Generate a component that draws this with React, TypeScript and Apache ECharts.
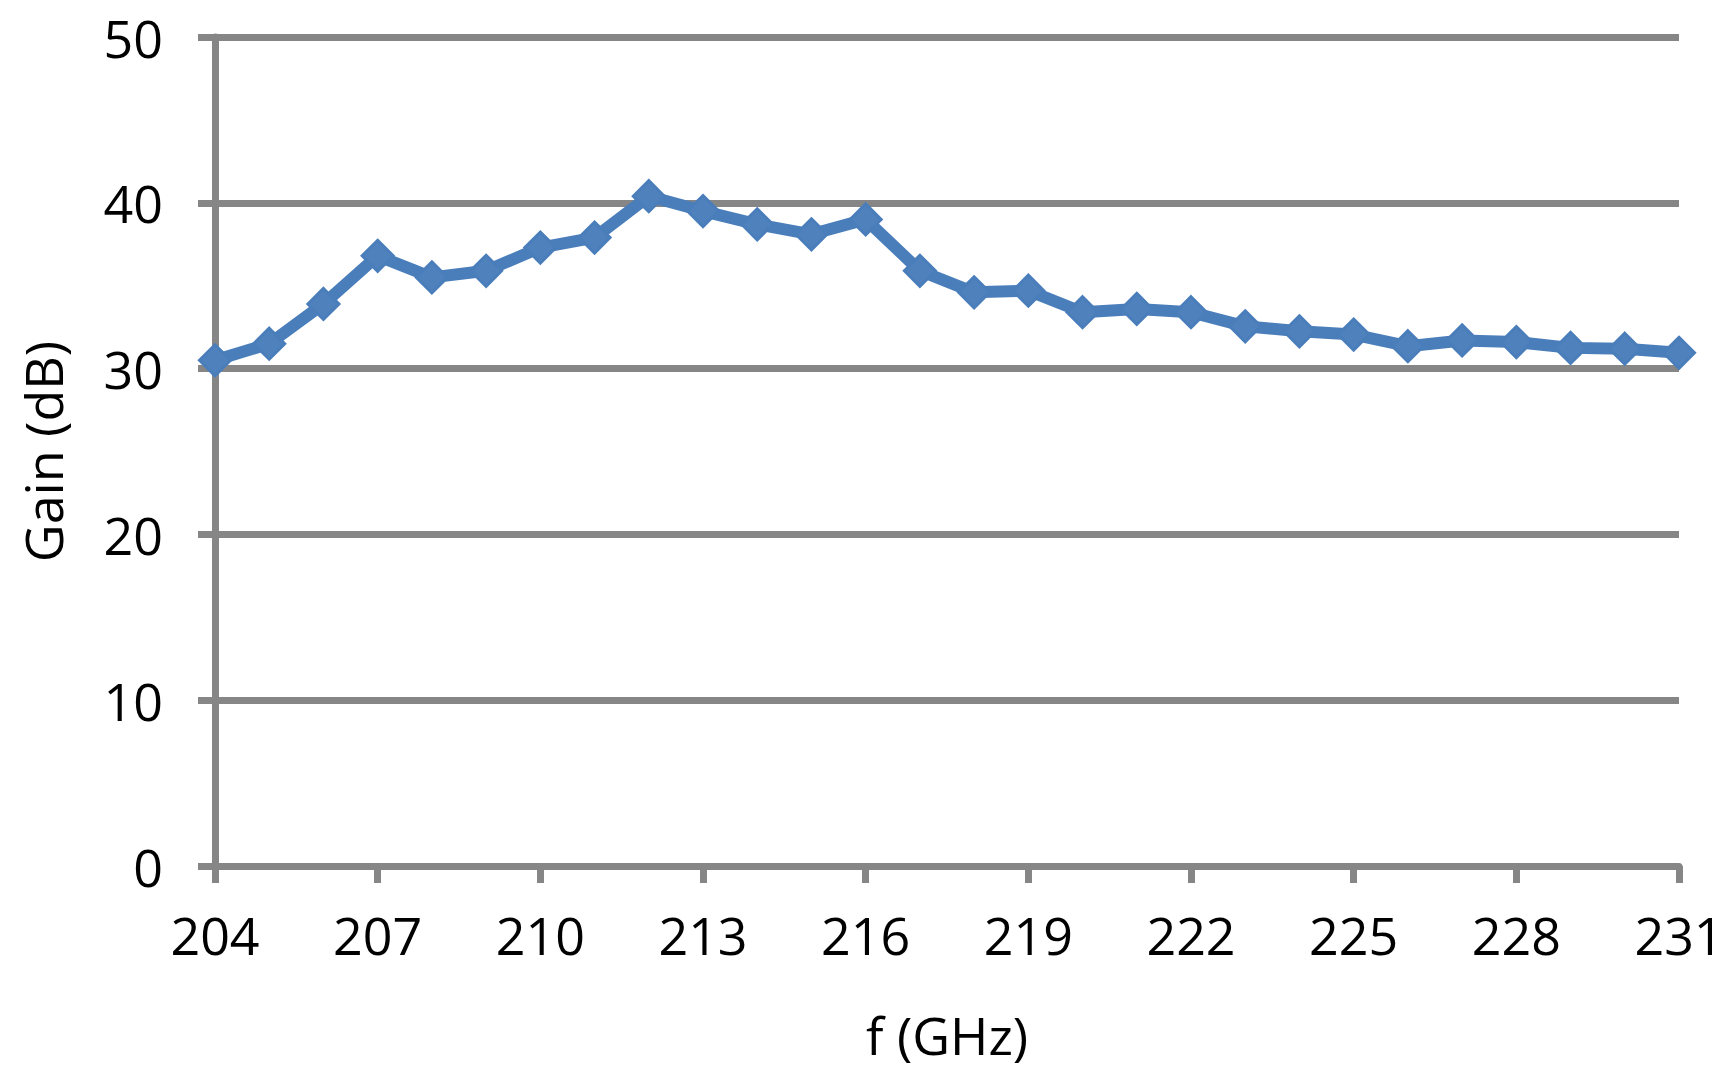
import React, { useEffect, useRef } from "react";
import * as echarts from "echarts";

const frequencies = [
  204, 205, 206, 207, 208, 209, 210, 211, 212, 213, 214, 215, 216, 217,
  218, 219, 220, 221, 222, 223, 224, 225, 226, 227, 228, 229, 230, 231,
];
const gainDb = [
  30.5, 31.5, 33.9, 36.8, 35.5, 35.9, 37.3, 37.9, 40.4, 39.5, 38.7, 38.1,
  39.0, 35.9, 34.6, 34.7, 33.4, 33.6, 33.4, 32.55, 32.25, 32.05, 31.35,
  31.7, 31.6, 31.25, 31.2, 30.95,
];
const xTickInterval = 3;
const yTicks = [0, 10, 20, 30, 40, 50];

const FONT = "'Open Sans', 'Noto Sans', sans-serif";
const GRAY = "#868686";

export default function App() {
  const ref = useRef<HTMLDivElement>(null);

  useEffect(() => {
    if (!ref.current) return;
    const chart = echarts.init(ref.current, null, { renderer: "svg" });
    chart.setOption({
      animation: false,
      backgroundColor: "#ffffff",
      grid: { left: 215, top: 37, right: 51, bottom: 214, containLabel: false },
      xAxis: {
        type: "value",
        min: frequencies[0],
        max: frequencies[frequencies.length - 1],
        interval: xTickInterval,
        name: "f (GHz)",
        nameLocation: "middle",
        nameGap: 142,
        nameTextStyle: { fontFamily: FONT, fontSize: 52, color: "#000" },
        axisLine: { show: true, lineStyle: { color: GRAY, width: 7 } },
        axisTick: { show: true, length: 17, lineStyle: { color: GRAY, width: 7 } },
        axisLabel: {
          margin: 42,
          fontFamily: FONT,
          fontSize: 52,
          color: "#000",
        },
        splitLine: { show: false },
      },
      yAxis: {
        type: "value",
        min: yTicks[0],
        max: yTicks[yTicks.length - 1],
        interval: yTicks[1] - yTicks[0],
        name: "Gain (dB)",
        nameLocation: "middle",
        nameGap: 147,
        nameTextStyle: { fontFamily: FONT, fontSize: 52, color: "#000" },
        axisLine: { show: true, lineStyle: { color: GRAY, width: 7 } },
        axisTick: { show: true, length: 17, lineStyle: { color: GRAY, width: 7 } },
        axisLabel: {
          margin: 52,
          fontFamily: FONT,
          fontSize: 52,
          color: "#000",
          padding: [0, 0, 8, 0],
        },
        splitLine: { show: true, lineStyle: { color: GRAY, width: 7 } },
      },
      series: [
        {
          type: "line",
          data: frequencies.map((f, i) => [f, gainDb[i]]),
          symbol: "diamond",
          symbolSize: 31,
          showSymbol: true,
          lineStyle: { color: "#4A7EBB", width: 12 },
          itemStyle: { color: "#4F81BD", borderColor: "#4A7EBB", borderWidth: 3 },
          z: 5,
        },
      ],
    });
    return () => chart.dispose();
  }, []);

  return (
    <div
      ref={ref}
      style={{ position: "fixed", left: 0, top: 0, width: 1730, height: 1080 }}
    />
  );
}
